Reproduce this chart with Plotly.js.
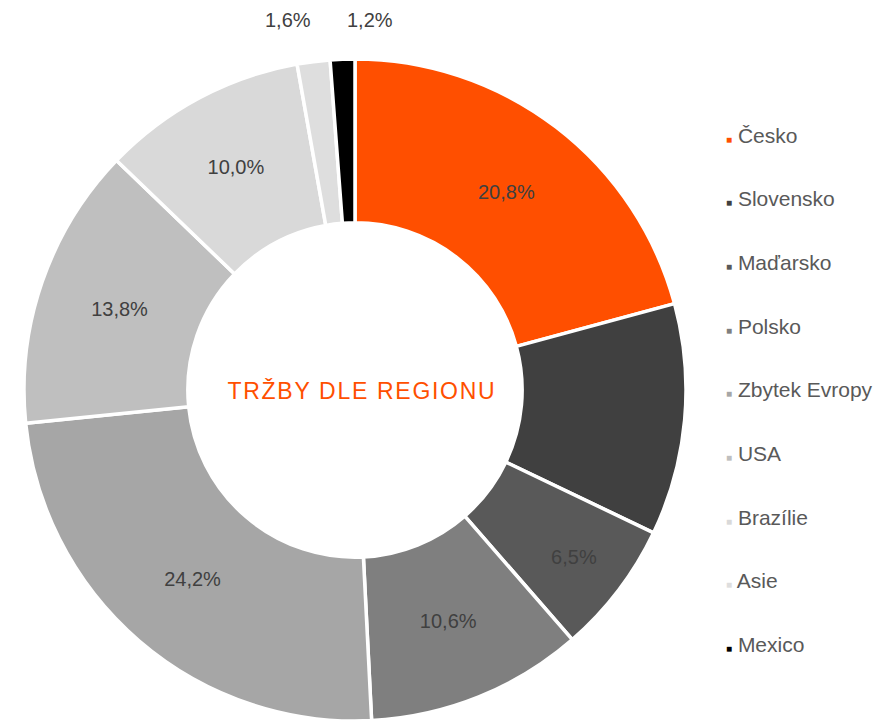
<!DOCTYPE html>
<html><head><meta charset="utf-8">
<script src="https://cdn.plot.ly/plotly-3.0.1.min.js"></script>
<style>html,body{margin:0;padding:0;background:#fff}#chart{width:877px;height:721px}
#chart .annotation[data-index="0"] .annotation-text{letter-spacing:1.7px}
</style>
</head><body><div id="chart"></div>
<script>
const regions = ["Česko","Slovensko","Maďarsko","Polsko","Zbytek Evropy","USA","Brazílie","Asie","Mexico"];
const shares = [20.8, 11.3, 6.5, 10.6, 24.2, 13.8, 10.0, 1.6, 1.2];
const colors = ["#FF4F00","#404040","#595959","#7F7F7F","#A6A6A6","#BFBFBF","#D9D9D9","#DEDEDE","#000000"];
const centerTitle = "TRŽBY DLE REGIONU";
const outsideIdx = [7, 8];
const outsidePos = {7: [288, 20], 8: [370, 20]};

const W = 877, H = 721;
const cx = 355, cy = 390, R = 331;
const total = shares.reduce((a,b)=>a+b,0);
const fmt = v => (v/total*100).toFixed(1).replace('.', ',') + '%';
const FONT = 'Liberation Sans, Arial, sans-serif';

const textpos = regions.map((_, i) => outsideIdx.includes(i) ? 'none' : 'inside');

const trace = {
  type: 'pie',
  labels: regions,
  values: shares,
  sort: false,
  direction: 'clockwise',
  rotation: 0,
  hole: 0.505,
  marker: {colors: colors, line: {color: '#ffffff', width: 3.5}},
  textinfo: 'percent',
  texttemplate: '%{percent:.1%}',
  textposition: textpos,
  insidetextorientation: 'horizontal',
  insidetextfont: {family: FONT, size: 20, color: '#404040'},
  showlegend: false,
  domain: {x: [(cx-R)/W, (cx+R)/W], y: [(H-cy-R)/H, (H-cy+R)/H]},
  hoverinfo: 'label+percent'
};

const annotations = [{
  xref: 'paper', yref: 'paper', x: 362/W, y: 1 - 391/H,
  xanchor: 'center', yanchor: 'middle', showarrow: false,
  text: centerTitle,
  font: {family: FONT, size: 23, color: '#FF4F00'}
}];
outsideIdx.forEach(i => {
  annotations.push({
    xref: 'paper', yref: 'paper', x: outsidePos[i][0]/W, y: 1 - outsidePos[i][1]/H,
    xanchor: 'center', yanchor: 'middle', showarrow: false,
    text: fmt(shares[i]),
    font: {family: FONT, size: 20, color: '#404040'}
  });
});
const legendTop = 135, legendStep = 63.7;
regions.forEach((r, i) => {
  annotations.push({
    xref: 'paper', yref: 'paper', x: 724/W, y: 1 - (legendTop + i*legendStep)/H,
    xanchor: 'left', yanchor: 'middle', showarrow: false,
    text: `<span style="color:${colors[i]};font-size:10px">■</span> ${r}`,
    font: {family: FONT, size: 21, color: '#595959'}
  });
});

const layout = {
  width: W, height: H,
  margin: {l: 0, r: 0, t: 0, b: 0},
  paper_bgcolor: '#ffffff',
  separators: ', ',
  showlegend: false,
  annotations: annotations
};
Plotly.newPlot('chart', [trace], layout, {displayModeBar: false, staticPlot: true});
</script></body></html>
